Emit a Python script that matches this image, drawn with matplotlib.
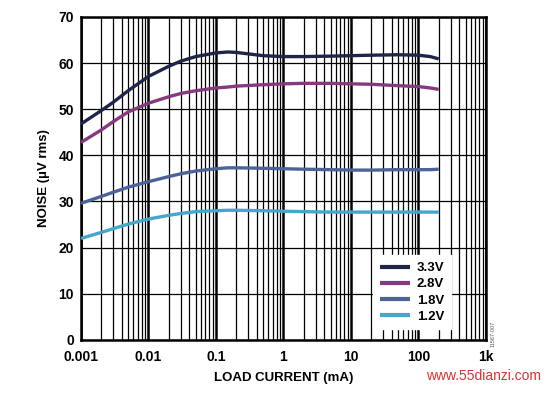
import numpy as np
import matplotlib
matplotlib.use("Agg")
import matplotlib.pyplot as plt
from matplotlib.ticker import FixedLocator, LogLocator, NullFormatter

plt.rcParams["font.family"] = ["Liberation Sans", "DejaVu Sans"]
plt.rcParams["font.weight"] = "bold"

# load current (mA)
load_ma = [0.001, 0.002, 0.003, 0.005, 0.01, 0.02, 0.03, 0.05, 0.1, 0.15, 0.2,
           0.5, 1, 2, 5, 10, 20, 50, 100, 150, 200]

# noise (uV rms)
noise_33 = [46.8, 49.7, 51.5, 54.0, 57.1, 59.3, 60.4, 61.4, 62.2, 62.4, 62.3,
            61.6, 61.4, 61.4, 61.5, 61.6, 61.7, 61.8, 61.7, 61.4, 60.9]
noise_28 = [42.8, 45.5, 47.3, 49.4, 51.3, 52.7, 53.4, 54.0, 54.6, 54.8, 55.0,
            55.3, 55.5, 55.6, 55.6, 55.5, 55.4, 55.1, 54.9, 54.6, 54.3]
noise_18 = [29.6, 31.1, 32.0, 33.1, 34.3, 35.4, 36.0, 36.6, 37.1, 37.3, 37.3,
            37.2, 37.1, 37.0, 36.9, 36.8, 36.8, 36.9, 36.9, 36.9, 37.0]
noise_12 = [22.0, 23.3, 24.1, 25.1, 26.2, 27.0, 27.4, 27.8, 28.0, 28.1, 28.1,
            28.0, 27.9, 27.8, 27.7, 27.7, 27.7, 27.7, 27.7, 27.7, 27.7]

labels = ["3.3V", "2.8V", "1.8V", "1.2V"]
colors = ["#1e2548", "#87397f", "#4d6398", "#45a6cc"]

x_ticks = [0.001, 0.01, 0.1, 1, 10, 100, 1000]
x_ticklabels = ["0.001", "0.01", "0.1", "1", "10", "100", "1k"]
y_ticks = [0, 10, 20, 30, 40, 50, 60, 70]

fig = plt.figure(figsize=(5.49, 3.93), dpi=100)
ax = fig.add_axes([0.1475, 0.135, 0.7375, 0.822])

for series, lab, col in zip([noise_33, noise_28, noise_18, noise_12], labels, colors):
    ax.plot(load_ma, series, color=col, lw=2.4, label=lab, zorder=3,
            solid_capstyle="butt")

ax.set_xscale("log")
ax.set_xlim(0.001, 1000)
ax.set_ylim(0, 70)
ax.xaxis.set_major_locator(FixedLocator(x_ticks))
ax.set_xticklabels(x_ticklabels)
ax.xaxis.set_minor_locator(LogLocator(base=10, subs=np.arange(2, 10)))
ax.xaxis.set_minor_formatter(NullFormatter())
ax.set_yticks(y_ticks)

ax.grid(which="major", axis="x", color="black", lw=1.8)
ax.grid(which="minor", axis="x", color="black", lw=0.9)
ax.grid(which="major", axis="y", color="black", lw=0.9)
ax.tick_params(which="both", length=0, labelsize=10)
ax.tick_params(axis="x", pad=7)
ax.tick_params(axis="y", pad=5)
for s in ax.spines.values():
    s.set_linewidth(1.8)

ax.set_xlabel("LOAD CURRENT (mA)", fontsize=9.5, fontweight="bold", labelpad=6)
ax.set_ylabel("NOISE (\u00b5V rms)", fontsize=9.5, fontweight="bold", labelpad=6)

leg = ax.legend(loc="lower right", bbox_to_anchor=(0.93, 0.012), frameon=True,
                fancybox=False, framealpha=1, edgecolor="white", fontsize=9.5,
                handlelength=2.3, handletextpad=0.5, labelspacing=0.3,
                borderpad=0.5)
leg.set_zorder(5)
for line in leg.get_lines():
    line.set_linewidth(3)

fig.text(0.898, 0.118, "11567-007", fontsize=4, rotation=90, color="#555555",
         ha="center", va="bottom", fontweight="normal")
fig.text(0.985, 0.025, "www.55dianzi.com", fontsize=10, color="#e03030",
         ha="right", va="bottom", fontweight="normal")

fig.savefig("out.png", dpi=100)
